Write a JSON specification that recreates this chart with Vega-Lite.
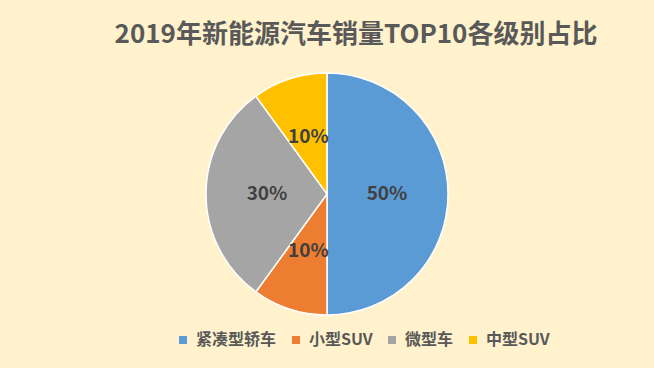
{
  "$schema": "https://vega.github.io/schema/vega-lite/v6.json",
  "width": 654,
  "height": 313,
  "padding": {"top": 55, "left": 0, "right": 0, "bottom": 0},
  "autosize": {"type": "none"},
  "background": "#FFF2CC",
  "config": {
    "view": {"stroke": null},
    "font": "Noto Sans CJK SC"
  },
  "title": {
    "text": "2019年新能源汽车销量TOP10各级别占比",
    "anchor": "middle",
    "frame": "group",
    "orient": "top",
    "dx": 29,
    "offset": 7,
    "fontSize": 26,
    "fontWeight": "bold",
    "color": "#595959",
    "font": "Noto Sans CJK SC"
  },
  "data": {
    "values": [
      {"category": "紧凑型轿车", "share": 50, "label": "50%", "order": 1},
      {"category": "小型SUV", "share": 10, "label": "10%", "order": 2},
      {"category": "微型车", "share": 30, "label": "30%", "order": 3},
      {"category": "中型SUV", "share": 10, "label": "10%", "order": 4}
    ]
  },
  "encoding": {
    "theta": {"field": "share", "type": "quantitative", "stack": true},
    "order": {"field": "order", "type": "quantitative"},
    "color": {
      "field": "category",
      "type": "nominal",
      "sort": ["紧凑型轿车", "小型SUV", "微型车", "中型SUV"],
      "scale": {
        "domain": ["紧凑型轿车", "小型SUV", "微型车", "中型SUV"],
        "range": ["#5B9BD5", "#ED7D31", "#A5A5A5", "#FFC000"]
      },
      "legend": {
        "title": null,
        "orient": "none",
        "direction": "horizontal",
        "legendX": 175,
        "legendY": 277,
        "symbolType": "square",
        "symbolSize": 64,
        "symbolStrokeWidth": 0,
        "labelFont": "Noto Sans CJK SC",
        "labelFontSize": 16,
        "labelFontWeight": "bold",
        "labelColor": "#595959",
        "labelOffset": 5,
        "columnPadding": 11
      }
    }
  },
  "layer": [
    {
      "mark": {"type": "arc", "outerRadius": 121, "stroke": "white", "strokeWidth": 1.5, "yOffset": -17.5}
    },
    {
      "mark": {"type": "text", "radius": 60, "yOffset": -17.5, "fontSize": 19, "fontWeight": "bold", "fill": "#404040", "font": "Noto Sans CJK SC"},
      "encoding": {
        "text": {"field": "label", "type": "nominal"},
        "color": {"value": "#404040"}
      }
    }
  ]
}
